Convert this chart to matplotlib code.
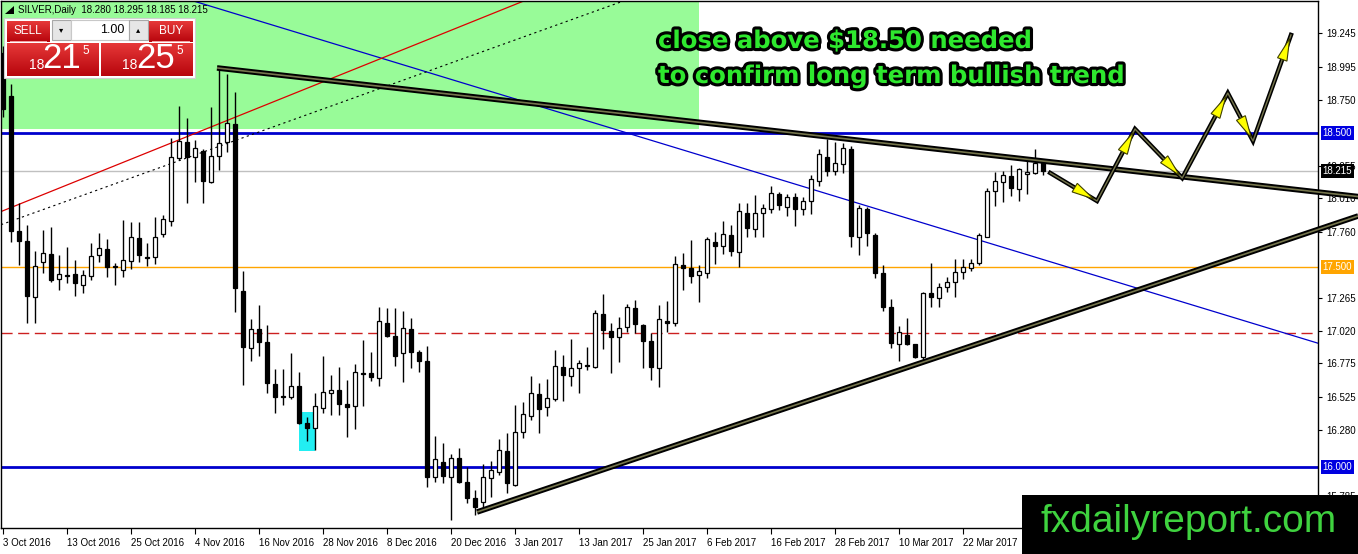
import numpy as np
import matplotlib
matplotlib.use("Agg")
import matplotlib.pyplot as plt
from matplotlib.patches import Rectangle, Polygon
import matplotlib.patheffects as pe
import matplotlib.transforms as mtransforms

# ---------------- data ----------------
date_labels = ["3 Oct 2016", "13 Oct 2016", "25 Oct 2016", "4 Nov 2016", "16 Nov 2016",
               "28 Nov 2016", "8 Dec 2016", "20 Dec 2016", "3 Jan 2017", "13 Jan 2017",
               "25 Jan 2017", "6 Feb 2017", "16 Feb 2017", "28 Feb 2017", "10 Mar 2017",
               "22 Mar 2017"]
label_every = 8

opens = [19.10, 18.777, 17.766, 17.692, 17.272, 17.534, 17.594, 17.407, 17.437, 17.445,
         17.362, 17.430, 17.587, 17.632, 17.497, 17.474, 17.542, 17.714, 17.572, 17.572,
         17.744, 17.841, 18.313, 18.433, 18.320, 18.365, 18.133, 18.328, 18.433, 18.567,
         17.317, 16.891, 17.033, 16.936, 16.621, 16.531, 16.524, 16.606, 16.329, 16.292,
         16.442, 16.554, 16.576, 16.472, 16.457, 16.704, 16.704, 16.666, 17.078, 16.981,
         16.853, 17.033, 16.861, 16.793, 15.925, 16.037, 15.925, 16.067, 15.888, 15.768,
         15.738, 15.918, 15.963, 16.120, 15.865, 16.262, 16.382, 16.546, 16.449, 16.509,
         16.748, 16.681, 16.741, 16.761, 16.748, 17.145, 17.018, 16.973, 17.048, 17.190,
         17.063, 16.943, 16.741, 17.093, 17.078, 17.512, 17.490, 17.437, 17.452, 17.684,
         17.654, 17.736, 17.609, 17.901, 17.781, 17.901, 17.931, 18.043, 17.946, 18.021,
         17.931, 17.991, 18.141, 18.320, 18.216, 18.268, 18.380, 17.722, 17.931, 17.736,
         17.452, 17.198, 16.921, 16.988, 16.921, 16.823, 17.302, 17.265, 17.347, 17.385,
         17.460, 17.490, 17.527, 17.722, 18.066, 18.133, 18.178, 18.081, 18.193, 18.201,
         18.280]
highs = [19.15, 18.867, 17.976, 17.811, 17.617, 17.774, 17.796, 17.587, 17.647, 17.549,
         17.474, 17.677, 17.751, 17.707, 17.527, 17.849, 17.834, 17.834, 17.677, 17.871,
         17.886, 18.463, 18.702, 18.612, 18.448, 18.380, 18.695, 18.987, 18.942, 18.807,
         17.467, 17.108, 17.213, 17.063, 16.734, 16.734, 16.853, 16.711, 16.374, 16.554,
         16.831, 16.689, 16.749, 16.651, 16.771, 16.951, 16.861, 17.198, 17.190, 17.190,
         17.168, 17.115, 16.876, 16.906, 16.232, 16.180, 16.097, 16.142, 16.000, 15.828,
         16.022, 16.045, 16.210, 16.254, 16.464, 16.487, 16.681, 16.629, 16.659, 16.876,
         16.838, 16.958, 16.801, 16.898, 17.175, 17.295, 17.078, 17.123, 17.220, 17.250,
         17.070, 17.003, 17.213, 17.243, 17.579, 17.602, 17.699, 17.512, 17.722, 17.759,
         17.841, 17.811, 17.976, 17.976, 18.036, 17.969, 18.103, 18.058, 18.043, 18.051,
         18.021, 18.186, 18.380, 18.455, 18.433, 18.425, 18.403, 17.961, 17.946, 17.751,
         17.512, 17.258, 17.055, 17.115, 16.921, 17.310, 17.527, 17.377, 17.422, 17.557,
         17.557, 17.557, 17.751, 18.088, 18.208, 18.216, 18.261, 18.238, 18.298, 18.380,
         18.295]
lows = [18.62, 17.684, 17.512, 17.078, 17.078, 17.452, 17.385, 17.325, 17.377, 17.280,
        17.302, 17.400, 17.534, 17.422, 17.362, 17.422, 17.482, 17.534, 17.505, 17.519,
        17.722, 17.804, 18.298, 17.976, 18.133, 17.976, 18.126, 18.223, 18.358, 17.160,
        16.614, 16.793, 16.831, 16.554, 16.404, 16.464, 16.509, 16.325, 16.194, 16.127,
        16.404, 16.389, 16.389, 16.224, 16.284, 16.457, 16.644, 16.606, 16.970, 16.756,
        16.636, 16.741, 16.711, 15.850, 15.888, 15.880, 15.603, 15.880, 15.731, 15.641,
        15.678, 15.775, 15.940, 15.806, 15.858, 16.217, 16.352, 16.254, 16.382, 16.494,
        16.494, 16.606, 16.554, 16.726, 16.741, 16.883, 16.704, 16.786, 17.010, 17.003,
        16.741, 16.651, 16.599, 17.010, 17.055, 17.325, 17.377, 17.235, 17.415, 17.520,
        17.594, 17.579, 17.497, 17.722, 17.722, 17.722, 17.901, 17.924, 17.879, 17.804,
        17.886, 17.894, 18.103, 18.178, 18.186, 18.201, 17.647, 17.587, 17.654, 17.415,
        17.168, 16.891, 16.793, 16.913, 16.816, 16.793, 17.198, 17.198, 17.310, 17.272,
        17.407, 17.467, 17.512, 17.722, 17.954, 17.984, 18.028, 17.991, 18.043, 18.193,
        18.185]
closes = [18.68, 17.767, 17.692, 17.280, 17.505, 17.602, 17.400, 17.445, 17.432, 17.377,
          17.437, 17.579, 17.639, 17.497, 17.505, 17.549, 17.722, 17.587, 17.565, 17.722,
          17.856, 18.320, 18.440, 18.320, 18.388, 18.141, 18.328, 18.425, 18.575, 17.340,
          16.898, 17.033, 16.936, 16.629, 16.524, 16.527, 16.606, 16.329, 16.292, 16.457,
          16.561, 16.576, 16.472, 16.449, 16.711, 16.696, 16.674, 17.093, 16.981, 16.831,
          17.040, 16.861, 16.793, 15.925, 16.060, 15.933, 16.067, 15.888, 15.768, 15.701,
          15.925, 15.978, 16.127, 15.880, 16.262, 16.397, 16.554, 16.434, 16.516, 16.756,
          16.689, 16.741, 16.778, 16.756, 17.153, 17.025, 16.973, 17.040, 17.198, 17.070,
          16.943, 16.748, 17.108, 17.078, 17.520, 17.490, 17.430, 17.467, 17.707, 17.654,
          17.744, 17.617, 17.916, 17.789, 17.901, 17.939, 18.051, 17.961, 18.021, 17.931,
          17.991, 18.156, 18.343, 18.216, 18.275, 18.388, 17.729, 17.939, 17.751, 17.452,
          17.198, 16.928, 17.010, 16.921, 16.823, 17.302, 17.272, 17.347, 17.385, 17.460,
          17.497, 17.527, 17.736, 18.066, 18.141, 18.186, 18.088, 18.231, 18.208, 18.275,
          18.215]

y_tick_values = [19.245, 18.995, 18.750, 18.255, 18.010, 17.760, 17.265, 17.020,
                 16.775, 16.525, 16.280, 15.785]

symbol = "SILVER,Daily"
last_ohlc = [18.280, 18.295, 18.185, 18.215]
lot_size = "1.00"
sell_quote = ("18", "21", "5")
buy_quote = ("18", "25", "5")

blue_levels = [18.500, 16.000]
orange_level = 17.500
red_dash_level = 17.000
current_price = 18.215
zone_low = 18.53
zone_end_bar = 87.0
# highlighted low area (bar range, price range)
cyan_bars = (37.0, 39.0)
cyan_prices = (16.120, 16.413)

# trend lines: (bar index pair, price pair)
desc_line = ([26.75, 169.4], [18.987, 18.024])
asc_line = ([59.25, 169.4], [15.663, 17.879])
red_channel = ([0.25, 65.4], [17.924, 19.4955])
dot_channel = ([-0.375, 42.1], [17.811, 18.725])
blue_diag = ([24.25, 110.9], [19.48, 17.901])

# projected zig-zag path
proj_x = [130.9, 136.75, 141.5, 147.4, 153.1, 156.25, 161.0]
proj_price = [18.201, 17.991, 18.530, 18.163, 18.799, 18.440, 19.234]

note_lines = ["close above $18.50 needed", "to confirm long term bullish trend"]
watermark = "fxdailyreport.com"

# ---------------- figure ----------------
W, H = 1358, 554
plt.rcParams['font.family'] = ['Liberation Sans', 'DejaVu Sans']
fig = plt.figure(figsize=(W / 100, H / 100), dpi=100)
fig.patch.set_facecolor('white')
ax = fig.add_axes([1 / W, 26 / H, 1317 / W, 527 / H])
ax.set_facecolor('white')
ax.set_xlim(-0.25, 164.375)
ax.set_ylim(15.5434, 19.488)

o = np.array(opens); h = np.array(highs); l = np.array(lows); c = np.array(closes)
x = np.arange(len(o))

# zone
ax.add_patch(Rectangle((-5, zone_low), zone_end_bar + 5, 5, facecolor='#98fb98',
                       edgecolor='none', zorder=1))
# cyan highlight
ax.add_patch(Rectangle((cyan_bars[0], cyan_prices[0]), cyan_bars[1] - cyan_bars[0],
                       cyan_prices[1] - cyan_prices[0], facecolor='#22eef2',
                       edgecolor='none', zorder=2.8))

# horizontal levels
for lv in blue_levels:
    ax.axhline(lv, color='#0000cd', lw=2, zorder=2)
ax.axhline(orange_level, color='#ffa500', lw=1, zorder=2)
ax.axhline(red_dash_level, color='#cc2020', lw=1, zorder=2, dashes=(8, 4))
ax.axhline(current_price, color='#c0c0c0', lw=1, zorder=2)

# thin lines
ax.axline((blue_diag[0][0], blue_diag[1][0]), (blue_diag[0][1], blue_diag[1][1]),
          color='#0000cd', lw=0.9, zorder=2.5)
ax.axline((red_channel[0][0], red_channel[1][0]), (red_channel[0][1], red_channel[1][1]),
          color='#dd0000', lw=0.9, zorder=2.5)
ax.axline((dot_channel[0][0], dot_channel[1][0]), (dot_channel[0][1], dot_channel[1][1]),
          color='black', lw=0.8, zorder=2.5, linestyle=(0, (2, 3)))

# candles
ax.vlines(x, l, h, color='black', lw=1, zorder=3)
bull = c >= o
bottoms = np.minimum(o, c)
heights = np.maximum(np.abs(c - o), 0.004)
ax.bar(x, heights, width=0.52, bottom=bottoms,
       color=np.where(bull, 'white', 'black'), edgecolor='black', linewidth=0.9, zorder=3.1)

# thick trend lines
for ln in (desc_line, asc_line):
    ax.plot(ln[0], ln[1], color='black', lw=4.0, zorder=5, clip_on=False,
            solid_capstyle='butt')
    ax.plot(ln[0], ln[1], color='#75754c', lw=1.2, zorder=5.1, clip_on=False,
            solid_capstyle='butt')

# projection path
ax.plot(proj_x, proj_price, color='black', lw=3.2, zorder=6, clip_on=False,
        solid_joinstyle='miter')
ax.plot(proj_x, proj_price, color='#75754c', lw=1.0, zorder=6.1, clip_on=False)
T = ax.transData
pts = T.transform(np.column_stack([proj_x, proj_price]))
for k in range(len(pts) - 1):
    p0, p1 = pts[k], pts[k + 1]
    d = p1 - p0
    u = d / np.hypot(*d)
    n = np.array([-u[1], u[0]])
    tip = p1 - u * 4
    base = tip - u * 22
    tri = np.array([tip, base + n * 5, base - n * 5])
    ax.add_patch(Polygon(T.inverted().transform(tri), closed=True, facecolor='#ffff00',
                         edgecolor='#404000', lw=0.8, zorder=7, clip_on=False))

# axes styling
for s in ax.spines.values():
    s.set_color('black'); s.set_linewidth(1)
ax.yaxis.tick_right()
ax.set_yticks(y_tick_values)
ax.set_yticklabels([f"{v:.3f}" for v in y_tick_values])
ax.tick_params(axis='y', direction='out', length=3, pad=3, labelsize=7, colors='black')
ax.set_xticks(np.arange(len(date_labels)) * label_every)
ax.set_xticklabels(date_labels)
for lab in ax.get_xticklabels():
    lab.set_horizontalalignment('left')
ax.tick_params(axis='x', direction='out', length=4, pad=3, labelsize=7, colors='black')

# price boxes on the scale
bt = mtransforms.blended_transform_factory(ax.transAxes, ax.transData)
for val, col in ((blue_levels[0], '#0000e0'), (blue_levels[1], '#0000e0'),
                 (orange_level, '#ffa500'), (current_price, 'black')):
    ax.text(1.0035, val, f"{val:.3f}", transform=bt, ha='left', va='center', fontsize=7,
            color='white', zorder=10, clip_on=False,
            bbox=dict(boxstyle='square,pad=0.2', facecolor=col, edgecolor='none'))

# annotation text
for i, line in enumerate(note_lines):
    fig.text(658 / W, 1 - (41 + 35 * i) / H, line, fontsize=17.5, fontweight='bold',
             family='DejaVu Sans', color='#2ee82e', ha='left', va='center', zorder=30,
             path_effects=[pe.withStroke(linewidth=4.5, foreground='black')])


# ---------------- figure-level overlays ----------------
def frect(x0, y0, x1, y1, **kw):
    r = Rectangle((x0 / W, 1 - y1 / H), (x1 - x0) / W, (y1 - y0) / H,
                  transform=fig.transFigure, **kw)
    fig.patches.append(r)
    return r


def ftext(xp, yp, s, **kw):
    return fig.text(xp / W, 1 - yp / H, s, **kw)


def grad_box(x0, y0, x1, y1, top, bot, z=21):
    hh, ww = int(y1 - y0), int(x1 - x0)
    t = np.linspace(0, 1, hh)[:, None, None]
    arr = (1 - t) * np.array(top)[None, None, :] + t * np.array(bot)[None, None, :]
    arr = np.repeat(arr, ww, axis=1)
    fig.figimage(arr, xo=x0, yo=H - y1, origin='upper', zorder=z)


# watermark
frect(1022, 495, 1358, 554, facecolor='black', edgecolor='none', zorder=20)
ftext(1189, 522, watermark, fontsize=28, color='#3fd23f', ha='center', va='center',
      zorder=21)

# trading panel
ftext(18, 10, f"{symbol}  " + " ".join(f"{v:.3f}" for v in last_ohlc), fontsize=7,
      color='black', ha='left', va='center', zorder=25)
fig.patches.append(Polygon([[5 / W, 1 - 14 / H], [14 / W, 1 - 14 / H], [14 / W, 1 - 6 / H]],
                           closed=True, transform=fig.transFigure, facecolor='black',
                           zorder=25))
frect(4, 18, 195, 78, facecolor='white', edgecolor='#d0d0d0', lw=0.8, zorder=20)
red_top = (0.90, 0.22, 0.22)
red_bot = (0.72, 0.02, 0.05)
grad_box(7, 21, 50, 42, red_top, red_bot)
grad_box(149, 21, 193, 42, red_top, red_bot)
grad_box(7, 43, 99, 76, red_top, red_bot)
grad_box(101, 43, 193, 76, red_top, red_bot)
frect(52, 20, 71, 40, facecolor='#e6e6e6', edgecolor='#a8a8a8', lw=0.8, zorder=22)
frect(71, 20, 129, 40, facecolor='white', edgecolor='#c8c8c8', lw=0.8, zorder=22)
frect(129, 20, 148, 40, facecolor='#e6e6e6', edgecolor='#a8a8a8', lw=0.8, zorder=22)
ftext(61.5, 30, "\u25be", fontsize=6, color='black', ha='center', va='center', zorder=25,
      family='DejaVu Sans')
ftext(138.5, 30, "\u25b4", fontsize=6, color='black', ha='center', va='center', zorder=25,
      family='DejaVu Sans')
ftext(124, 30, lot_size, fontsize=9, color='black', ha='right', va='center', zorder=25)
ftext(28, 31, "SELL", fontsize=8.5, color='white', ha='center', va='center', zorder=25)
ftext(171, 31, "BUY", fontsize=8.5, color='white', ha='center', va='center', zorder=25)
frect(10, 41, 47, 42, facecolor='#f0a0a0', edgecolor='none', zorder=24)
frect(152, 41, 190, 42, facecolor='#f0a0a0', edgecolor='none', zorder=24)
for q, (xs, xb, xp) in ((sell_quote, (37, 62, 86)), (buy_quote, (130, 156, 180))):
    ftext(xs, 65, q[0], fontsize=10, color='white', ha='center', va='center', zorder=25)
    ftext(xb, 59, q[1], fontsize=25, color='white', ha='center', va='center', zorder=25)
    ftext(xp, 51, q[2], fontsize=8.5, color='white', ha='center', va='center', zorder=25)

fig.savefig("out.png", dpi=100, facecolor='white')
